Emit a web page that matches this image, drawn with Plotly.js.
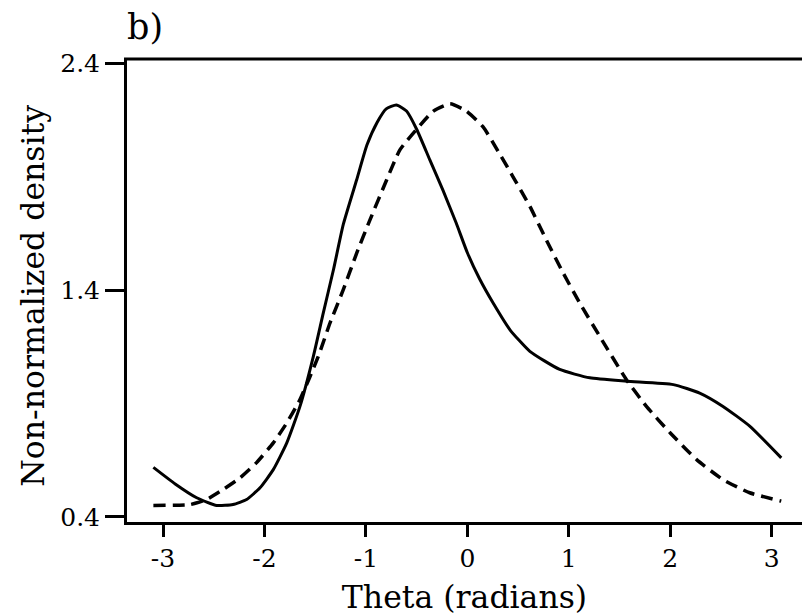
<!DOCTYPE html>
<html>
<head>
<meta charset="utf-8">
<script src="https://cdn.plot.ly/plotly-3.0.1.min.js"></script>
<style>html,body{margin:0;padding:0;background:#fff;}#chart{width:802px;height:616px;}</style>
</head>
<body>
<div id="chart"></div>
<script>
// Solid curve (estimated)
const solidX = [-3.095, -2.88, -2.668, -2.47, -2.31, -2.176, -2.044, -1.913, -1.78, -1.65, -1.518, -1.42, -1.32, -1.223, -1.091, -0.99, -0.89, -0.80, -0.70, -0.60, -0.50, -0.37, -0.24, -0.11, 0.0, 0.12, 0.254, 0.42, 0.616, 0.91, 1.207, 1.568, 2.03, 2.29, 2.52, 2.783, 3.094];
const solidY = [0.618, 0.545, 0.484, 0.450, 0.454, 0.476, 0.528, 0.608, 0.726, 0.887, 1.108, 1.300, 1.490, 1.690, 1.887, 2.040, 2.140, 2.200, 2.217, 2.190, 2.110, 1.975, 1.840, 1.696, 1.565, 1.450, 1.343, 1.225, 1.130, 1.050, 1.013, 0.998, 0.983, 0.946, 0.887, 0.800, 0.660];
// Dashed curve (estimated)
const dashX = [-3.095, -2.73, -2.57, -2.41, -2.24, -2.08, -1.913, -1.78, -1.65, -1.469, -1.354, -1.223, -1.091, -0.96, -0.795, -0.665, -0.50, -0.335, -0.17, -0.01, 0.155, 0.32, 0.45, 0.616, 0.78, 0.945, 1.108, 1.305, 1.568, 1.765, 2.0, 2.26, 2.52, 2.783, 3.094];
const dashY = [0.450, 0.454, 0.476, 0.520, 0.572, 0.638, 0.726, 0.814, 0.917, 1.108, 1.255, 1.402, 1.563, 1.710, 1.887, 2.019, 2.110, 2.190, 2.222, 2.190, 2.120, 2.000, 1.900, 1.770, 1.620, 1.475, 1.343, 1.196, 1.005, 0.887, 0.770, 0.652, 0.564, 0.506, 0.469];
const xTicks = [-3, -2, -1, 0, 1, 2, 3];
const xTickLabels = ['-3', '-2', '-1', '0', '1', '2', '3'];
const yTicks = [0.4, 1.4, 2.4];
const yTickLabels = ['0.4', '1.4', '2.4'];

const FONT = 'DejaVu Serif, Liberation Serif, serif';
const traces = [
  {x: solidX, y: solidY, mode: 'lines', type: 'scatter',
   line: {color: '#000', width: 3, shape: 'spline', smoothing: 0.5}, hoverinfo: 'skip'},
  {x: dashX, y: dashY, mode: 'lines', type: 'scatter',
   line: {color: '#000', width: 3.5, dash: '12px,7px', shape: 'spline', smoothing: 0.5}, hoverinfo: 'skip'}
];
const layout = {
  width: 802, height: 616,
  margin: {l: 127, r: 0, t: 59, b: 93.5, pad: 0},
  paper_bgcolor: '#fff', plot_bgcolor: '#fff',
  showlegend: false,
  font: {family: FONT, color: '#000', size: 25},
  title: {text: 'b)', font: {family: FONT, size: 35, color: '#000'},
          x: 127/802, xanchor: 'left', xref: 'container',
          y: 1 - 27/616, yanchor: 'middle', yref: 'container'},
  xaxis: {
    range: [-3.355, 3.2985], tickmode: 'array', tickvals: xTicks, ticktext: xTickLabels,
    showgrid: false, zeroline: false, showline: true, linecolor: '#000', linewidth: 3,
    ticks: 'outside', ticklen: 12, tickwidth: 3, tickcolor: '#000',
    tickfont: {family: FONT, size: 25, color: '#000'},
    title: {text: 'Theta (radians)', font: {family: FONT, size: 31.5, color: '#000'}, standoff: 14},
    automargin: false, fixedrange: true
  },
  yaxis: {
    range: [0.377, 2.4198], tickmode: 'array', tickvals: yTicks, ticktext: yTickLabels,
    showgrid: false, zeroline: false, showline: true, linecolor: '#000', linewidth: 3,
    ticks: 'outside', ticklen: 19, tickwidth: 3, tickcolor: '#000',
    tickfont: {family: FONT, size: 25, color: '#000'},
    automargin: false, fixedrange: true
  },
  annotations: [{text: 'Non-normalized density', xref: 'paper', yref: 'paper',
                 x: (33 - 127) / 675, y: (522.5 - 296) / 463.5, xanchor: 'center', yanchor: 'middle',
                 textangle: -90, showarrow: false,
                 font: {family: FONT, size: 31.5, color: '#000'}}],
  shapes: [{type: 'line', xref: 'paper', yref: 'paper', x0: -3/675, x1: 1, y0: 1, y1: 1,
            line: {color: '#000', width: 3}}]
};
Plotly.newPlot('chart', traces, layout, {displayModeBar: false, staticPlot: true});
</script>
</body>
</html>
